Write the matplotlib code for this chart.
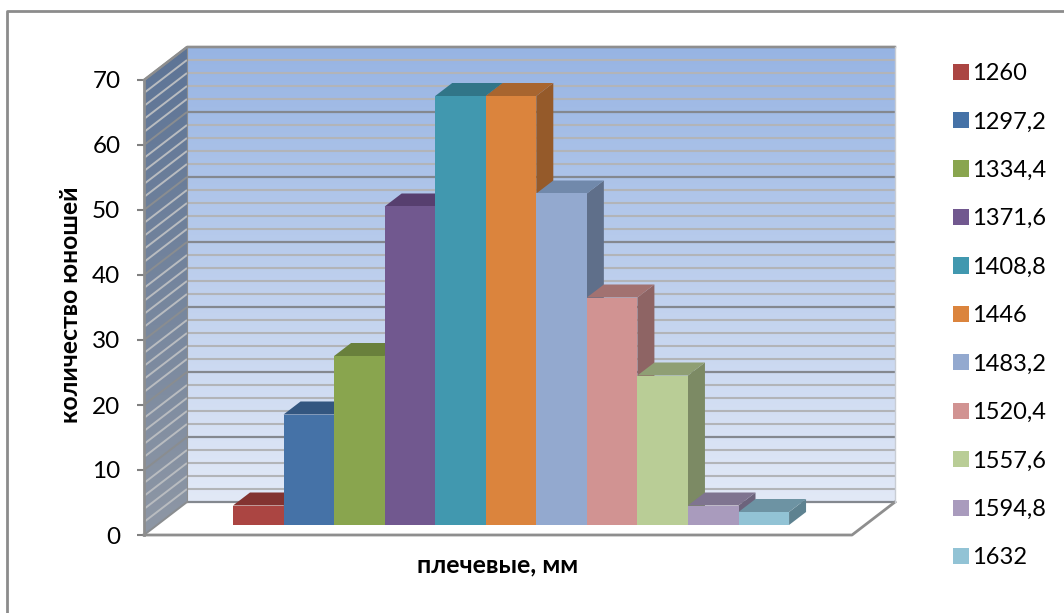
import numpy as np
import matplotlib
matplotlib.use("Agg")
import matplotlib.pyplot as plt
from matplotlib.colors import LinearSegmentedColormap
from matplotlib.patches import Polygon

plt.rcParams["font.family"] = ["Lato", "Open Sans", "DejaVu Sans"]

# интервалы (плечевые, мм) и число юношей
labels = ["1260", "1297,2", "1334,4", "1371,6", "1408,8", "1446",
          "1483,2", "1520,4", "1557,6", "1594,8", "1632"]
counts = [3, 17, 26, 49, 66, 66, 51, 35, 23, 3, 2]
y_ticks = [0, 10, 20, 30, 40, 50, 60, 70]

front = ["#AB4542", "#4572A7", "#89A54E", "#71588F", "#4198AF", "#DB843D",
         "#93A9CF", "#D19392", "#B9CD96", "#A99BBD", "#92C3D5"]
top = ["#833331", "#335680", "#69803C", "#573F6F", "#317588", "#A8652F",
       "#7189AB", "#A27271", "#8F9F74", "#7F7490", "#6D93A3"]
side = ["#6F2C2A", "#2F4B70", "#5C6F36", "#4A3760", "#2B6474", "#955A2A",
        "#5F6F8A", "#8E6464", "#7C8A64", "#6C637C", "#5E8290"]

W, H = 1064, 613
CAT = 50.55    # пикселей на столбец
UNIT = 6.5     # пикселей на единицу оси y

fig = plt.figure(figsize=(W / 100, H / 100), dpi=100)
ax = fig.add_axes([0, 0, 1, 1])
# x - номер столбца, y - количество; 0 оси лежит на 535 px от верха
ax.set_xlim((0 - 233) / CAT - 0.5, (W - 233) / CAT - 0.5)
ax.set_ylim((535 - H) / UNIT, 535 / UNIT)
ax.patch.set_visible(False)
for name in ("top", "right", "bottom"):
    ax.spines[name].set_visible(False)

x_left = (144 - 233) / CAT - 0.5
x_right = (852 - 233) / CAT - 0.5
dx = 43 / CAT
dy = 33 / UNIT
y_max = 70
base = 10 / UNIT              # столбцы стоят в глубине пола
bar_dx = 17 / CAT
bar_dy = 13 / UNIT

# рамка области диаграммы
frame_x = (7 - 233) / CAT - 0.5
frame_y = (535 - 11) / UNIT
ax.plot([frame_x, frame_x, 30], [-30, frame_y, frame_y], color="#8C8C8C", lw=2)

# задняя стенка с градиентом
back_cmap = LinearSegmentedColormap.from_list("back", ["#E2E9F7", "#97B4E3"])
grad = np.linspace(1, 0, 256).reshape(-1, 1)
ax.imshow(grad, cmap=back_cmap, aspect="auto", vmin=0, vmax=1, zorder=1,
          extent=[x_left + dx, x_right + dx, dy, y_max + dy])

# боковая стенка
side_cmap = LinearSegmentedColormap.from_list("wall", ["#8E97A5", "#5D7496"])
wall = ax.imshow(grad, cmap=side_cmap, aspect="auto", vmin=0, vmax=1, zorder=1,
                 extent=[x_left, x_left + dx, 0, y_max + dy])
wall.set_clip_path(Polygon([(x_left, 0), (x_left + dx, dy), (x_left + dx, y_max + dy),
                            (x_left, y_max)], transform=ax.transData))

# линии сетки: через 2 единицы, каждая пятая темнее
for v in range(0, y_max + 1, 2):
    major = v % 10 == 0
    ax.plot([x_left + dx, x_right + dx], [v + dy, v + dy], zorder=2, solid_capstyle="butt",
            color="#84888F" if major else "#B2B4B8", lw=1.6 if major else 1.5)
    ax.plot([x_left, x_left + dx], [v, v + dy], zorder=2, solid_capstyle="butt",
            color="#8A8D90" if major else "#B9BCC0", lw=1.4)

# контур пола и стенок
ax.plot([x_left, x_right, x_right + dx], [0, 0, dy], color="#8E8E8E", lw=2, zorder=3)
ax.plot([x_left + dx, x_left + dx], [dy, y_max + dy], color="#8E8E8E", lw=0.8, zorder=3)
ax.plot([x_left, x_left + dx, x_right + dx], [y_max, y_max + dy, y_max + dy],
        color="#8E8E8E", lw=1.8, zorder=3)
ax.plot([x_right + dx, x_right + dx], [dy, y_max + dy], color="#C9CDD4", lw=1, zorder=3)

# столбцы слева направо: следующий перекрывает бок предыдущего
positions = np.arange(len(counts))
for i, (pos, val) in enumerate(zip(positions, counts)):
    left, right = pos - 0.5, pos + 0.5
    y_top = base + val
    z = 4 + i * 0.1
    ax.add_patch(Polygon([(right, base), (right + bar_dx, base + bar_dy),
                          (right + bar_dx, y_top + bar_dy), (right, y_top)],
                         facecolor=side[i], edgecolor="none", zorder=z))
    ax.add_patch(Polygon([(left, y_top), (right, y_top), (right + bar_dx, y_top + bar_dy),
                          (left + bar_dx, y_top + bar_dy)],
                         facecolor=top[i], edgecolor="none", zorder=z))
    ax.bar(pos, val, width=1.0, bottom=base, color=front[i], label=labels[i], zorder=z + 0.01)

# ось y
ax.spines["left"].set_position(("data", x_left))
ax.spines["left"].set_bounds(0, y_max)
ax.spines["left"].set_color("#8E8E8E")
ax.spines["left"].set_linewidth(2)
ax.spines["left"].set_zorder(3.5)
ax.set_yticks(y_ticks)
ax.tick_params(axis="y", length=5, width=1.5, color="#808080", labelsize=17.5, pad=12, labelcolor="black")
ax.set_xticks([])

ax.text((70 - 233) / CAT - 0.5, (535 - 305) / UNIT, "количество юношей", rotation=90,
        fontsize=17.8, fontweight="bold", ha="center", va="center")
ax.text((498 - 233) / CAT - 0.5, (535 - 565) / UNIT, "плечевые, мм",
        fontsize=18, fontweight="bold", ha="center", va="center")

ax.legend(loc="upper left", bbox_to_anchor=(953 / W, 1 - 63 / H), frameon=False,
          fontsize=17, handlelength=0.68, handleheight=0.68, handletextpad=0.13,
          labelspacing=1.162, borderpad=0, borderaxespad=0)

fig.savefig("out.png", dpi=100)
